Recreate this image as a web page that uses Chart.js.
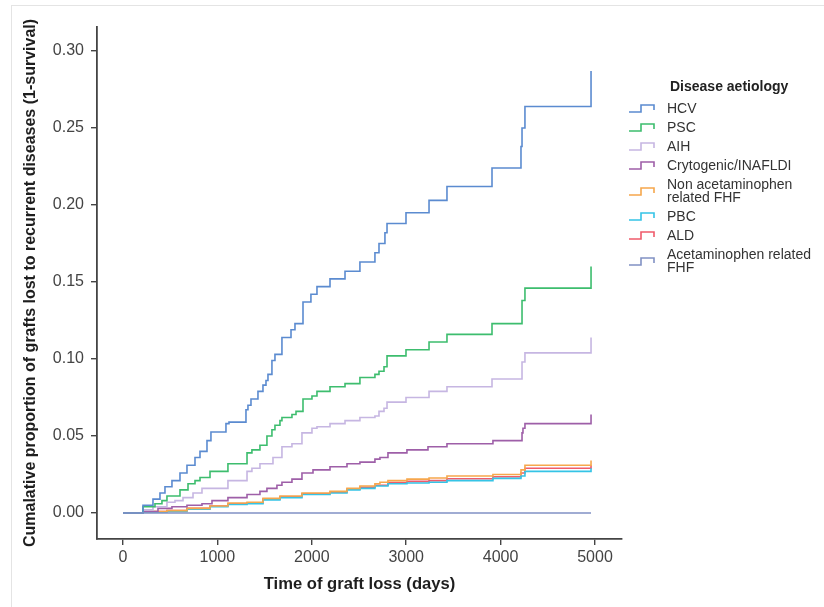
<!DOCTYPE html>
<html>
<head>
<meta charset="utf-8">
<script src="https://cdn.jsdelivr.net/npm/chart.js@4.4.0/dist/chart.umd.min.js"></script>
<style>
  html, body { margin: 0; padding: 0; background: #fff; }
  body { width: 824px; height: 607px; position: relative; overflow: hidden; font-family: "Liberation Sans", Arial, sans-serif; }
  #frame { position: absolute; left: 11px; top: 5px; width: 900px; height: 700px; border-top: 1px solid #e4e4e4; border-left: 1px solid #e4e4e4; }
  #wrap { position: absolute; left: 0; top: 0; width: 824px; height: 607px; }
  #legend { position: absolute; left: 628px; top: 78px; width: 206px; color: #333; font-size: 14px; }
  #legend .title { padding-left: 42px; font-weight: bold; line-height: 16px; margin-bottom: 5px; color: #222; }
  #legend .row { display: flex; align-items: center; padding: 3px 0; line-height: 13px; }
  #legend svg { flex: none; margin-right: 11px; }
</style>
</head>
<body>
<div id="frame"></div>
<div id="wrap"><canvas id="kmChart" width="824" height="607"></canvas></div>
<div id="legend"></div>
<script>
// axis ticks
const xTicks = [0, 1000, 2000, 3000, 4000, 5000];
const yTicks = [0, 0.05, 0.10, 0.15, 0.20, 0.25, 0.30];

// series (days, cumulative proportion)
const hcvDays = [0, 212, 318, 392, 445, 519, 604, 678, 763, 816, 890, 932, 1091, 1123, 1303, 1324, 1356, 1430, 1483, 1515, 1536, 1578, 1610, 1684, 1780, 1822, 1907, 1991, 2055, 2193, 2352, 2510, 2669, 2712, 2775, 2797, 2998, 3242, 3432, 3909, 4216, 4227, 4258, 4958];
const hcvRisk = [0, 0.005, 0.009, 0.013, 0.017, 0.021, 0.026, 0.031, 0.036, 0.040, 0.047, 0.0526, 0.058, 0.059, 0.067, 0.070, 0.074, 0.079, 0.083, 0.086, 0.090, 0.099, 0.103, 0.114, 0.119, 0.123, 0.137, 0.142, 0.147, 0.152, 0.157, 0.163, 0.169, 0.175, 0.182, 0.188, 0.195, 0.203, 0.212, 0.224, 0.238, 0.250, 0.264, 0.287];

const pscDays = [0, 212, 339, 413, 466, 604, 689, 763, 816, 922, 1112, 1314, 1366, 1451, 1525, 1578, 1610, 1663, 1684, 1790, 1833, 1907, 2002, 2055, 2193, 2352, 2510, 2669, 2712, 2765, 2797, 2998, 3242, 3432, 3909, 4227, 4258, 4958];
const pscRisk = [0, 0.004, 0.006, 0.008, 0.011, 0.015, 0.019, 0.021, 0.023, 0.027, 0.032, 0.039, 0.041, 0.044, 0.050, 0.054, 0.057, 0.060, 0.062, 0.064, 0.066, 0.074, 0.076, 0.079, 0.082, 0.084, 0.088, 0.090, 0.092, 0.095, 0.102, 0.106, 0.111, 0.116, 0.123, 0.138, 0.146, 0.160];

const aihDays = [0, 212, 318, 466, 551, 636, 742, 837, 1112, 1314, 1366, 1451, 1589, 1684, 1790, 1896, 2002, 2055, 2193, 2352, 2510, 2669, 2712, 2765, 2797, 2998, 3242, 3432, 3909, 4227, 4258, 4958];
const aihRisk = [0, 0.002, 0.004, 0.007, 0.008, 0.010, 0.013, 0.016, 0.021, 0.027, 0.029, 0.032, 0.036, 0.043, 0.045, 0.052, 0.055, 0.056, 0.058, 0.060, 0.062, 0.063, 0.066, 0.068, 0.072, 0.075, 0.079, 0.082, 0.087, 0.098, 0.104, 0.114];

const cryDays = [0, 212, 371, 519, 678, 837, 943, 1112, 1314, 1451, 1525, 1631, 1684, 1790, 1896, 2013, 2193, 2373, 2510, 2669, 2722, 2807, 3008, 3231, 3432, 3919, 4227, 4237, 4258, 4958];
const cryRisk = [0, 0.001, 0.003, 0.004, 0.005, 0.006, 0.008, 0.010, 0.012, 0.014, 0.016, 0.018, 0.020, 0.022, 0.026, 0.028, 0.030, 0.032, 0.033, 0.035, 0.036, 0.039, 0.041, 0.043, 0.045, 0.047, 0.052, 0.055, 0.058, 0.064];

const nafDays = [0, 212, 466, 678, 922, 1112, 1314, 1483, 1663, 1896, 2193, 2373, 2510, 2669, 2722, 2807, 3008, 3242, 3432, 3919, 4216, 4258, 4958];
const nafRisk = [0, 0.001, 0.0015, 0.003, 0.0045, 0.0065, 0.007, 0.0095, 0.011, 0.013, 0.014, 0.016, 0.0175, 0.019, 0.020, 0.021, 0.022, 0.0227, 0.024, 0.025, 0.028, 0.031, 0.034];

const pbcDays = [0, 212, 466, 678, 922, 1112, 1314, 1483, 1663, 1896, 2193, 2373, 2510, 2669, 2807, 3008, 3242, 3432, 3919, 4216, 4258, 4958];
const pbcRisk = [0, 0.0005, 0.001, 0.0025, 0.004, 0.0055, 0.006, 0.0085, 0.010, 0.012, 0.013, 0.015, 0.016, 0.0175, 0.019, 0.0195, 0.020, 0.021, 0.0225, 0.024, 0.027, 0.029];

const aldDays = [0, 212, 466, 678, 922, 1112, 1314, 1483, 1663, 1896, 2193, 2373, 2510, 2669, 2807, 3008, 3242, 3432, 3919, 4216, 4258, 4958];
const aldRisk = [0, 0.001, 0.0015, 0.003, 0.0045, 0.006, 0.0065, 0.009, 0.0105, 0.0125, 0.0135, 0.0155, 0.0167, 0.018, 0.0198, 0.0205, 0.021, 0.0222, 0.0235, 0.026, 0.029, 0.031];

const apfDays = [0, 4958];
const apfRisk = [0, 0];

const seriesNames = ['HCV', 'PSC', 'AIH', 'Crytogenic/INAFLDI', ['Non acetaminophen', 'related FHF'], 'PBC', 'ALD', ['Acetaminophen related', 'FHF']];
const seriesColors = ['#5b8bd0', '#3dbd6e', '#c6b6e2', '#9e5fa8', '#f6a74c', '#35c4e6', '#ef5b6b', '#8191c4'];
const seriesDays = [hcvDays, pscDays, aihDays, cryDays, nafDays, pbcDays, aldDays, apfDays];
const seriesRisk = [hcvRisk, pscRisk, aihRisk, cryRisk, nafRisk, pbcRisk, aldRisk, apfRisk];
const seriesOrder = [1, 2, 3, 4, 5, 6, 7, 0];

const axisColor = '#444';

const datasets = seriesNames.map((name, i) => ({
  label: Array.isArray(name) ? name.join(' ') : name,
  data: seriesDays[i].map((d, j) => ({ x: d, y: seriesRisk[i][j] })),
  borderColor: seriesColors[i],
  borderWidth: 1.6,
  pointRadius: 0,
  stepped: true,
  fill: false,
  order: seriesOrder[i]
}));

const ctx = document.getElementById('kmChart').getContext('2d');
const kmChart = new Chart(ctx, {
  type: 'line',
  data: { datasets: datasets },
  options: {
    responsive: false,
    animation: false,
    layout: { padding: { left: 0, right: 202, top: 27, bottom: 0 } },
    plugins: {
      legend: { display: false },
      tooltip: { enabled: false }
    },
    scales: {
      x: {
        type: 'linear',
        min: -275,
        max: 5286,
        afterBuildTicks: s => { s.ticks = xTicks.map(v => ({ value: v })); },
        afterFit: s => { s.height = 68; },
        ticks: { font: { size: 16, family: 'Liberation Sans' }, color: axisColor, padding: 3, callback: v => String(v) },
        grid: { display: true, drawOnChartArea: false, drawTicks: true, tickLength: 6, color: axisColor, lineWidth: 1.4 },
        border: { display: true, color: axisColor, width: 1.8 },
        title: { display: true, text: 'Time of graft loss (days)', color: '#1e1e1e', font: { size: 16.6, weight: 'bold', family: 'Liberation Sans' }, padding: { top: 0, bottom: 13 } }
      },
      y: {
        type: 'linear',
        min: -0.0169,
        max: 0.3156,
        afterBuildTicks: s => { s.ticks = yTicks.map(v => ({ value: v })); },
        afterFit: s => { s.width = 97; },
        ticks: { font: { size: 16, family: 'Liberation Sans' }, color: axisColor, padding: 7, callback: v => v.toFixed(2) },
        grid: { display: true, drawOnChartArea: false, drawTicks: true, tickLength: 6, color: axisColor, lineWidth: 1.4 },
        border: { display: true, color: axisColor, width: 1.8 },
        title: { display: true, text: 'Cumalative proportion of grafts lost to recurrent diseases (1-survival)', color: '#1e1e1e', font: { size: 16, weight: 'bold', family: 'Liberation Sans' }, padding: { top: 21, bottom: 0 } }
      }
    }
  }
});

// legend with step-shaped keys
const legendBox = document.getElementById('legend');
legendBox.innerHTML = '<div class="title">Disease aetiology</div>';
seriesNames.forEach((name, i) => {
  const row = document.createElement('div');
  row.className = 'row';
  const text = Array.isArray(name) ? name.join('<br>') : name;
  row.innerHTML = `
    <svg width="28" height="11" viewBox="0 0 28 11"><polyline points="1,9 13,9 13,2 26,2 26,7" fill="none" stroke="${seriesColors[i]}" stroke-width="1.6"/></svg>
    <span>${text}</span>`;
  legendBox.appendChild(row);
});
</script>
</body>
</html>
